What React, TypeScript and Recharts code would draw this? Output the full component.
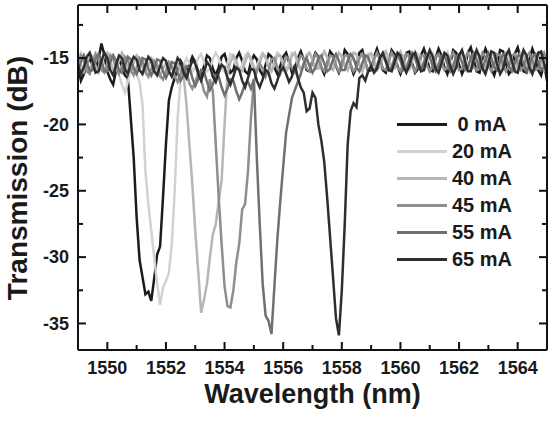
import { LineChart, Line, XAxis, YAxis, Legend } from 'recharts';

// spectra are sampled every 0.1 nm from 1549.0 to 1565.0 nm (161 points)
const WL_START = 1549;
const WL_STEP = 0.1;

const T_0MA = [
  -15.6, -16.7, -16.2, -15.4, -15.0, -15.6, -15.9, -15.1, -13.9, -14.8,
  -16.0, -16.6, -17.0, -15.9, -15.1, -15.6, -16.3, -16.5, -19.5, -22.5,
  -27.0, -30.2, -31.5, -32.8, -32.6, -33.3, -31.6, -29.8, -29.2, -25.5,
  -21.5, -18.2, -17.2, -16.5, -15.8, -15.2, -15.6, -16.2, -15.5, -14.9,
  -15.3, -16.0, -16.4, -15.6, -14.8, -15.0, -15.8, -16.3, -15.7, -14.9,
  -14.7, -15.4, -16.1, -15.9, -15.0, -14.6, -15.2, -16.0, -16.2, -15.3,
  -14.8, -15.1, -15.9, -16.3, -15.5, -14.7, -14.9, -15.7, -16.2, -15.6,
  -14.9, -14.6, -15.3, -16.1, -15.8, -15.0, -14.5, -15.1, -15.9, -16.0,
  -15.2, -14.6, -14.9, -15.7, -16.2, -15.4, -14.5, -14.8, -15.6, -16.1,
  -15.5, -14.4, -14.7, -15.5, -16.2, -15.7, -14.6, -14.4, -15.3, -16.0,
  -15.9, -14.9, -14.3, -15.0, -15.9, -16.1, -15.2, -14.4, -14.7, -15.6,
  -16.2, -15.6, -14.6, -14.5, -15.4, -16.1, -15.8, -14.8, -14.3, -15.0,
  -15.9, -16.0, -15.0, -14.3, -14.8, -15.7, -16.2, -15.4, -14.4, -14.6,
  -15.5, -16.2, -15.7, -14.6, -14.2, -15.1, -16.0, -16.1, -15.0, -14.3,
  -14.8, -15.8, -16.3, -15.5, -14.4, -14.5, -15.4, -16.2, -15.9, -14.7,
  -14.2, -15.0, -16.0, -16.1, -15.1, -14.3, -14.9, -15.9, -16.3, -15.4,
  -16.7,
];

const T_20MA = [
  -15.0, -14.6, -15.1, -15.8, -15.9, -15.2, -14.6, -14.9, -15.6, -16.0,
  -15.4, -14.7, -15.0, -15.7, -16.3, -17.0, -17.6, -16.8, -15.9, -15.7,
  -16.2, -16.8, -18.5, -23.5, -26.0, -28.0, -30.0, -32.0, -33.6, -32.3,
  -31.8, -31.2, -29.0, -25.0, -19.5, -16.5, -15.6, -15.0, -15.4, -16.0,
  -15.7, -15.0, -14.7, -15.3, -16.0, -15.8, -15.1, -14.6, -15.0, -15.7,
  -16.0, -15.4, -14.7, -14.9, -15.6, -16.0, -15.5, -14.8, -14.6, -15.3,
  -15.9, -15.7, -15.0, -14.6, -15.0, -15.7, -15.9, -15.2, -14.6, -14.8,
  -15.5, -15.9, -15.3, -14.6, -14.8, -15.5, -15.9, -15.4, -14.7, -14.6,
  -15.2, -15.8, -15.6, -14.9, -14.5, -15.0, -15.7, -15.8, -15.1, -14.6,
  -14.8, -15.5, -15.9, -15.3, -14.6, -14.7, -15.4, -15.9, -15.5, -14.8,
  -14.6, -15.1, -15.8, -15.7, -14.9, -14.5, -15.0, -15.7, -15.8, -15.1,
  -14.6, -14.9, -15.6, -15.9, -15.3, -14.6, -14.7, -15.4, -15.9, -15.4,
  -14.7, -14.6, -15.3, -15.9, -15.6, -14.8, -14.5, -15.1, -15.8, -15.7,
  -15.0, -14.5, -14.9, -15.6, -15.9, -15.2, -14.6, -14.8, -15.5, -15.9,
  -15.4, -14.7, -14.6, -15.3, -15.9, -15.6, -14.9, -14.5, -15.1, -15.8,
  -15.8, -15.1, -14.5, -14.8, -15.5, -15.9, -15.3, -14.6, -14.8, -15.6,
  -15.9,
];

const T_40MA = [
  -14.9, -15.5, -16.0, -15.4, -14.7, -14.9, -15.6, -16.1, -15.5, -14.8,
  -14.6, -15.2, -15.9, -15.9, -15.2, -14.6, -15.0, -15.8, -16.0, -15.4,
  -14.8, -15.0, -15.7, -16.1, -15.6, -15.0, -15.3, -16.0, -16.4, -15.8,
  -15.4, -15.9, -16.3, -15.8, -15.4, -16.0, -16.2, -18.5, -21.5, -24.5,
  -28.0, -31.0, -34.2, -33.2, -32.0, -30.0, -28.3, -27.5, -25.8, -24.2,
  -20.0, -16.2, -15.3, -14.8, -15.2, -15.9, -16.0, -15.3, -14.7, -15.0,
  -15.7, -16.0, -15.4, -14.7, -14.9, -15.6, -16.0, -15.5, -14.8, -14.8,
  -15.5, -16.0, -15.6, -14.8, -14.6, -15.3, -15.9, -15.7, -14.9, -14.6,
  -15.1, -15.8, -15.8, -15.0, -14.5, -14.9, -15.7, -15.9, -15.2, -14.6,
  -14.9, -15.6, -15.9, -15.3, -14.6, -14.7, -15.5, -16.0, -15.4, -14.7,
  -14.7, -15.3, -15.9, -15.6, -14.8, -14.5, -15.2, -15.9, -15.7, -14.9,
  -14.5, -15.0, -15.8, -15.8, -15.1, -14.5, -14.9, -15.7, -15.9, -15.2,
  -14.6, -14.8, -15.5, -16.0, -15.4, -14.7, -14.7, -15.4, -16.0, -15.5,
  -14.8, -14.6, -15.2, -15.9, -15.7, -14.9, -14.5, -15.1, -15.8, -15.8,
  -15.0, -14.5, -14.9, -15.7, -15.9, -15.2, -14.6, -14.8, -15.6, -16.0,
  -15.3, -14.6, -14.7, -15.4, -16.0, -15.5, -14.8, -14.6, -15.3, -15.9,
  -15.6,
];

const T_45MA = [
  -15.3, -14.8, -15.2, -16.0, -16.2, -15.4, -14.7, -15.1, -15.9, -16.1,
  -15.5, -14.8, -15.0, -15.8, -16.2, -15.6, -14.9, -15.1, -15.9, -16.3,
  -15.7, -15.0, -15.2, -16.0, -16.4, -15.8, -15.2, -15.5, -16.3, -16.6,
  -16.0, -15.3, -15.6, -16.4, -16.8, -16.2, -15.6, -16.0, -16.9, -17.3,
  -16.8, -16.2, -16.6, -17.5, -17.9, -16.6, -17.5, -21.5, -25.5, -29.0,
  -32.2, -33.7, -33.8, -32.5, -30.4, -29.0, -26.4, -26.0, -23.5, -19.5,
  -16.8, -16.0, -15.4, -15.8, -16.4, -15.9, -15.1, -15.0, -15.7, -16.2,
  -15.6, -14.9, -15.1, -15.8, -16.1, -15.4, -14.8, -15.0, -15.8, -16.0,
  -15.3, -14.7, -15.0, -15.7, -16.0, -15.5, -14.8, -14.9, -15.6, -16.0,
  -15.5, -14.8, -14.8, -15.5, -16.0, -15.7, -15.0, -14.7, -15.3, -15.9,
  -15.8, -15.1, -14.6, -15.1, -15.8, -15.9, -15.2, -14.6, -15.0, -15.7,
  -16.0, -15.4, -14.7, -14.9, -15.6, -16.0, -15.5, -14.8, -14.8, -15.5,
  -16.0, -15.6, -14.9, -14.7, -15.3, -15.9, -15.7, -15.0, -14.6, -15.2,
  -15.9, -15.8, -15.1, -14.6, -15.0, -15.7, -15.9, -15.3, -14.6, -14.9,
  -15.6, -16.0, -15.4, -14.7, -14.8, -15.5, -16.0, -15.6, -14.8, -14.7,
  -15.3, -15.9, -15.7, -14.9, -14.6, -15.2, -15.9, -15.8, -15.0, -14.6,
  -15.3,
];

const T_55MA = [
  -15.9, -15.3, -14.8, -15.3, -16.0, -15.9, -15.1, -14.7, -15.2, -16.0,
  -16.0, -15.3, -14.8, -15.2, -15.9, -16.1, -15.5, -14.9, -15.1, -15.8,
  -16.2, -15.7, -15.0, -15.1, -15.8, -16.3, -15.8, -15.1, -15.2, -16.0,
  -16.5, -16.0, -15.3, -15.4, -16.1, -16.7, -16.3, -15.6, -15.7, -16.5,
  -17.1, -16.6, -15.9, -16.0, -16.8, -17.4, -17.0, -16.3, -16.4, -17.2,
  -17.8, -17.3, -16.6, -16.7, -17.5, -18.1, -17.6, -16.9, -16.8, -17.3,
  -16.6, -22.5, -27.5, -32.0, -34.4, -34.8, -35.8, -32.2, -28.7, -25.8,
  -23.2, -20.6, -19.3, -18.0, -17.4, -16.8, -16.2, -15.4, -15.0, -15.6,
  -16.1, -15.7, -15.0, -14.8, -15.4, -16.0, -15.8, -15.1, -14.7, -15.2,
  -15.9, -15.9, -15.2, -14.7, -15.0, -15.7, -16.0, -15.4, -14.8, -14.9,
  -15.6, -16.0, -15.6, -14.9, -14.7, -15.3, -15.9, -15.7, -15.0, -14.7,
  -15.2, -15.9, -15.8, -15.1, -14.6, -15.0, -15.7, -15.9, -15.3, -14.7,
  -14.9, -15.6, -16.0, -15.5, -14.8, -14.8, -15.4, -16.0, -15.6, -14.9,
  -14.7, -15.3, -15.9, -15.7, -15.0, -14.6, -15.1, -15.8, -15.8, -15.1,
  -14.6, -15.0, -15.7, -15.9, -15.3, -14.7, -14.9, -15.6, -16.0, -15.4,
  -14.8, -14.8, -15.4, -16.0, -15.6, -14.9, -14.7, -15.3, -15.9, -15.7,
  -15.8,
];

const T_65MA = [
  -15.5, -16.2, -15.7, -14.9, -14.6, -15.3, -16.1, -16.0, -15.2, -14.6,
  -15.0, -15.9, -16.3, -15.5, -14.8, -15.0, -15.8, -16.2, -15.4, -14.9,
  -15.1, -15.9, -16.2, -15.5, -14.9, -15.2, -16.0, -16.3, -15.6, -15.0,
  -15.2, -16.0, -16.4, -15.7, -15.0, -15.3, -16.1, -16.5, -15.8, -15.2,
  -15.4, -16.2, -16.7, -16.0, -15.3, -15.6, -16.4, -16.8, -16.1, -15.5,
  -15.7, -16.5, -17.0, -16.4, -15.7, -15.9, -16.7, -17.2, -16.5, -15.8,
  -15.9, -16.7, -17.2, -16.6, -15.9, -16.1, -16.9, -17.3, -16.7, -16.0,
  -15.7, -16.2, -16.8, -16.4, -15.5, -16.5, -17.2, -17.6, -19.0, -18.8,
  -17.6, -18.0, -20.0, -21.2, -22.8, -25.5, -28.5, -31.5, -34.6, -35.9,
  -32.5, -27.5, -21.5, -19.0, -18.4, -18.7, -16.5, -16.3, -16.7, -16.0,
  -15.6, -16.1, -15.8, -15.0, -14.6, -15.2, -15.9, -16.0, -15.3, -14.6,
  -14.8, -15.6, -16.1, -15.6, -14.8, -14.6, -15.3, -16.0, -15.9, -15.0,
  -14.4, -14.9, -15.8, -16.1, -15.4, -14.6, -14.8, -15.6, -16.2, -15.7,
  -14.8, -14.4, -15.2, -16.0, -16.0, -15.1, -14.4, -14.9, -15.8, -16.2,
  -15.4, -14.5, -14.6, -15.5, -16.2, -15.8, -14.8, -14.4, -15.2, -16.0,
  -16.1, -15.2, -14.4, -14.8, -15.7, -16.2, -15.5, -14.6, -14.5, -15.4,
  -16.2,
];

// the 0 mA trace is plotted against the mirrored (top/right) axes so those
// axes get a series and draw their frame; their domains are identical
const SERIES = [
  { key: 'ma0', label: ' 0 mA', color: '#1b1b1b', values: T_0MA, xAxisId: 'top', yAxisId: 'right' },
  { key: 'ma20', label: '20 mA', color: '#d2d2d2', values: T_20MA, xAxisId: 0, yAxisId: 0 },
  { key: 'ma40', label: '40 mA', color: '#b6b6b6', values: T_40MA, xAxisId: 0, yAxisId: 0 },
  { key: 'ma45', label: '45 mA', color: '#8e8e8e', values: T_45MA, xAxisId: 0, yAxisId: 0 },
  { key: 'ma55', label: '55 mA', color: '#707070', values: T_55MA, xAxisId: 0, yAxisId: 0 },
  { key: 'ma65', label: '65 mA', color: '#2e2e2e', values: T_65MA, xAxisId: 0, yAxisId: 0 },
];

const X_DOMAIN = [1549, 1565];
const Y_DOMAIN = [-37, -11];
const X_TICKS = [
  1549, 1550, 1551, 1552, 1553, 1554, 1555, 1556, 1557, 1558, 1559, 1560, 1561, 1562, 1563, 1564, 1565,
];
const Y_TICKS = [-35, -32.5, -30, -27.5, -25, -22.5, -20, -17.5, -15, -12.5];

const data = T_0MA.map((_, i) => {
  const row: Record<string, number> = { wl: +(WL_START + i * WL_STEP).toFixed(1) };
  SERIES.forEach((s) => {
    row[s.key] = s.values[i];
  });
  return row;
});

const FONT = '"Liberation Sans", Arial, Helvetica, sans-serif';
const AXIS_COLOR = '#111';
const TEXT_COLOR = '#1a1a1a';

const isMajorX = (v: number) => v % 2 === 0;
const isMajorY = (v: number) => v % 5 === 0;

// ticks point into the plot on all four sides; only bottom/left get numbers
function BottomTick({ x, y, payload }: any) {
  const v = payload.value;
  const major = isMajorX(v);
  return (
    <g>
      <line x1={x} x2={x} y1={y} y2={y - (major ? 8 : 5)} stroke={AXIS_COLOR} strokeWidth={2} />
      {major && (
        <text x={x} y={y + 24} textAnchor="middle" fontFamily={FONT} fontWeight="bold" fontSize={18} fill={TEXT_COLOR}>
          {v}
        </text>
      )}
    </g>
  );
}

function TopTick({ x, y, payload }: any) {
  const major = isMajorX(payload.value);
  return <line x1={x} x2={x} y1={y} y2={y + (major ? 8 : 5)} stroke={AXIS_COLOR} strokeWidth={2} />;
}

function LeftTick({ x, y, payload }: any) {
  const v = payload.value;
  const major = isMajorY(v);
  return (
    <g>
      <line x1={x} x2={x + (major ? 8 : 5)} y1={y} y2={y} stroke={AXIS_COLOR} strokeWidth={2} />
      {major && (
        <text x={x - 9} y={y} dy="0.35em" textAnchor="end" fontFamily={FONT} fontWeight="bold" fontSize={18} fill={TEXT_COLOR}>
          {v}
        </text>
      )}
    </g>
  );
}

function RightTick({ x, y, payload }: any) {
  const major = isMajorY(payload.value);
  return <line x1={x} x2={x - (major ? 8 : 5)} y1={y} y2={y} stroke={AXIS_COLOR} strokeWidth={2} />;
}

function CurrentLegend() {
  return (
    <div style={{ fontFamily: FONT, fontWeight: 'bold', fontSize: 20, color: TEXT_COLOR }}>
      {SERIES.map((s) => (
        <div key={s.key} style={{ display: 'flex', alignItems: 'center', height: 27 }}>
          <div style={{ width: 50, height: 3, background: s.color, marginRight: 5 }} />
          <span style={{ whiteSpace: 'pre', lineHeight: '27px' }}>{s.label}</span>
        </div>
      ))}
    </div>
  );
}

export default function App() {
  return (
    <div style={{ position: 'absolute', left: 0, top: 0, width: 560, height: 423, background: '#fff' }}>
      <LineChart width={560} height={423} data={data} margin={{ top: 4, right: 12, left: 8, bottom: 33 }}>
        <XAxis
          dataKey="wl"
          type="number"
          domain={X_DOMAIN}
          ticks={X_TICKS}
          allowDataOverflow
          interval={0}
          height={40}
          tickSize={0}
          tickMargin={0}
          tickLine={false}
          axisLine={{ stroke: AXIS_COLOR, strokeWidth: 2 }}
          tick={BottomTick}
        />
        <XAxis
          xAxisId="top"
          dataKey="wl"
          orientation="top"
          type="number"
          domain={X_DOMAIN}
          ticks={X_TICKS}
          allowDataOverflow
          interval={0}
          height={1}
          tickSize={0}
          tickMargin={0}
          tickLine={false}
          axisLine={{ stroke: AXIS_COLOR, strokeWidth: 2 }}
          tick={TopTick}
        />
        <YAxis
          type="number"
          domain={Y_DOMAIN}
          ticks={Y_TICKS}
          allowDataOverflow
          interval={0}
          width={70}
          tickSize={0}
          tickMargin={0}
          tickLine={false}
          axisLine={{ stroke: AXIS_COLOR, strokeWidth: 2 }}
          tick={LeftTick}
        />
        <YAxis
          yAxisId="right"
          orientation="right"
          type="number"
          domain={Y_DOMAIN}
          ticks={Y_TICKS}
          allowDataOverflow
          interval={0}
          width={1}
          tickSize={0}
          tickMargin={0}
          tickLine={false}
          axisLine={{ stroke: AXIS_COLOR, strokeWidth: 2 }}
          tick={RightTick}
        />
        {SERIES.map((s) => (
          <Line
            key={s.key}
            xAxisId={s.xAxisId}
            yAxisId={s.yAxisId}
            dataKey={s.key}
            name={s.label}
            type="linear"
            stroke={s.color}
            strokeWidth={2.5}
            dot={false}
            isAnimationActive={false}
          />
        ))}
        <Legend
          layout="vertical"
          align="center"
          verticalAlign="middle"
          content={CurrentLegend}
          wrapperStyle={{ left: 397, top: 111, width: 140, height: 165 }}
        />
      </LineChart>
      <div
        style={{
          position: 'absolute',
          left: 78,
          width: 469,
          top: 378,
          textAlign: 'center',
          fontFamily: FONT,
          fontWeight: 'bold',
          fontSize: 27,
          color: TEXT_COLOR,
          lineHeight: '32px',
        }}
      >
        Wavelength (nm)
      </div>
      <div
        style={{
          position: 'absolute',
          left: 18,
          top: 178,
          transform: 'translate(-50%, -50%) rotate(-90deg)',
          whiteSpace: 'nowrap',
          fontFamily: FONT,
          fontWeight: 'bold',
          fontSize: 28,
          color: TEXT_COLOR,
          lineHeight: '32px',
        }}
      >
        Transmission (dB)
      </div>
    </div>
  );
}
